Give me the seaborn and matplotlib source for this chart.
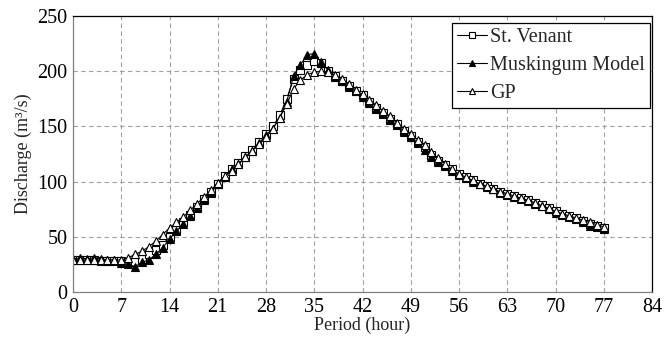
import numpy as np
import pandas as pd
import seaborn as sns
import matplotlib
matplotlib.use("Agg")
import matplotlib.pyplot as plt

hours = list(range(78))

st_venant = [29, 29, 29, 29, 28, 28, 28, 28, 27, 27,
             30, 34, 38, 43, 50, 56, 63, 70, 77, 84,
             91, 98, 105, 111, 117, 123, 129, 136, 143, 150,
             160, 175, 193, 201, 206, 209, 207, 200, 196, 191,
             187, 182, 178, 172, 167, 162, 157, 152, 146, 141,
             136, 131, 124, 119, 115, 111, 107, 104, 101, 98,
             96, 93, 91, 89, 87, 85, 83, 81, 79, 76,
             73, 71, 69, 67, 64, 62, 60, 58]

muskingum = [30, 31, 30, 31, 30, 29, 29, 26, 25, 23,
             27, 29, 34, 40, 48, 55, 62, 69, 76, 83,
             90, 98, 104, 111, 116, 122, 128, 135, 142, 148,
             158, 172, 196, 206, 215, 216, 208, 201, 195, 191,
             186, 182, 177, 171, 166, 161, 156, 151, 145, 140,
             135, 129, 122, 118, 114, 110, 106, 103, 100, 98,
             95, 93, 90, 88, 86, 84, 82, 80, 78, 75,
             72, 70, 68, 66, 63, 60, 59, 57]

gp = [29, 29, 29, 29, 29, 29, 29, 29, 31, 34,
      37, 41, 46, 52, 58, 63, 68, 74, 80, 86,
      92, 99, 105, 110, 116, 122, 128, 134, 140, 148,
      158, 170, 184, 192, 197, 199, 200, 199, 197, 193,
      188, 183, 179, 174, 169, 164, 159, 153, 148, 143,
      138, 133, 127, 121, 116, 111, 107, 104, 101, 98,
      96, 93, 91, 89, 87, 85, 83, 81, 78, 76,
      73, 71, 69, 67, 65, 63, 61, 59]

series_names = ["St. Venant", "Muskingum Model", "GP"]
x_ticks = [0, 7, 14, 21, 28, 35, 42, 49, 56, 63, 70, 77, 84]
y_ticks = [0, 50, 100, 150, 200, 250]

sns.set_theme(style="white")
plt.rcParams['font.family'] = ['Liberation Serif', 'DejaVu Serif']

W, H = 664, 339
fig = plt.figure(figsize=(W / 100, H / 100), dpi=100)
ax = fig.add_axes([73 / W, 1 - 292 / H, (652 - 73) / W, (292 - 16) / H])

styles = {
    "St. Venant": dict(marker="s", markerfacecolor="white", markeredgecolor="black"),
    "Muskingum Model": dict(marker="^", markerfacecolor="black", markeredgecolor="black"),
    "GP": dict(marker="^", markerfacecolor="white", markeredgecolor="black"),
}
for name, vals in zip(series_names, [st_venant, muskingum, gp]):
    df = pd.DataFrame({"hour": hours, "q": vals})
    sns.lineplot(data=df, x="hour", y="q", ax=ax, color="black", linewidth=0.8,
                 markersize=5.5, markeredgewidth=0.8, label=name, **styles[name])

ax.set_xlim(0, 84)
ax.set_ylim(0, 250)
ax.set_xticks(x_ticks)
ax.set_yticks(y_ticks)
ax.tick_params(axis='both', length=0, pad=4, labelsize=14.5, colors='black')
ax.grid(True, linestyle=(0, (4, 3)), color='#a0a0a0', linewidth=0.8)
ax.set_axisbelow(True)
for s in ['top', 'right']:
    ax.spines[s].set_color('black')
    ax.spines[s].set_linewidth(0.9)
for s in ['left', 'bottom']:
    ax.spines[s].set_color('#808080')
    ax.spines[s].set_linewidth(0.9)

ax.set_xlabel("Period (hour)", fontsize=13, labelpad=0)
ax.set_ylabel("Discharge (m\u00b3/s)", fontsize=13, labelpad=4)

leg = ax.legend(loc='upper right', bbox_to_anchor=(650 / W, 1 - 22.7 / H),
                bbox_transform=fig.transFigure, fontsize=14.5, frameon=True,
                fancybox=False, edgecolor='black', handlelength=1.5,
                handletextpad=0.15, borderpad=0.25, labelspacing=0.45,
                borderaxespad=0, markerscale=0.8)
leg.get_frame().set_linewidth(0.9)
leg.get_frame().set_alpha(1)

fig.savefig("out.png", dpi=100)
